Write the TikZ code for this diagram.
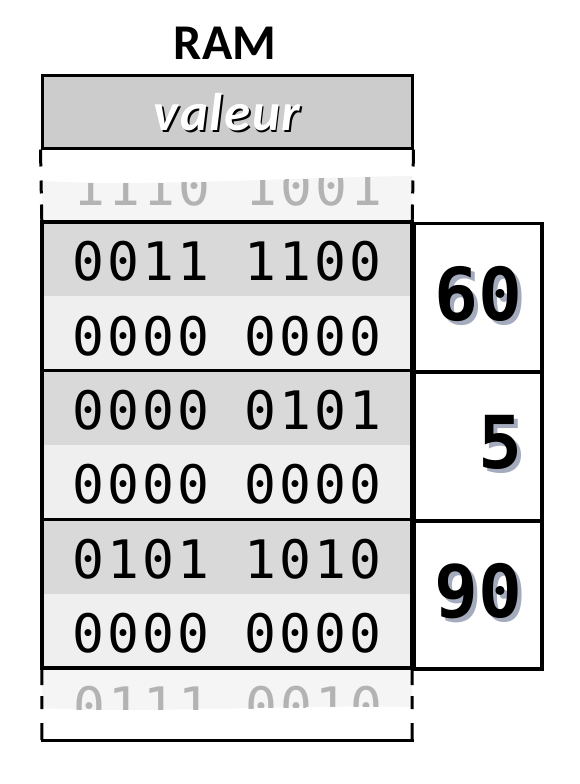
\documentclass[tikz,border=0pt]{standalone}
\usepackage{fontspec}
\setmainfont{Carlito}
\newfontfamily\bitsfont[LetterSpace=6]{DejaVu Sans Mono}
\newfontfamily\valfont{DejaVu Sans Mono}
\usetikzlibrary{positioning}
\definecolor{headgrey}{HTML}{CCCCCC}
\definecolor{rowdark}{HTML}{D9D9D9}
\definecolor{rowlight}{HTML}{EFEFEF}
\definecolor{fadegrey}{HTML}{F5F5F5}
\definecolor{fadetext}{HTML}{B3B3B3}
\definecolor{shadowblue}{HTML}{A3ABBC}
\newcommand\castshadow[3]{\makebox[0pt][l]{\hspace*{#3}\raisebox{-#3}{\textcolor{#2}{#1}}}#1}
\tikzstyle{cell} = [inner sep=0pt,minimum width=370pt,minimum height=74pt,text height=44pt,font=\bitsfont\fontsize{53}{53}\selectfont]
\tikzstyle{hirow} = [cell,fill=rowdark]
\tikzstyle{lorow} = [cell,fill=rowlight]
\tikzstyle{fadebits} = [cell,text=fadetext,anchor=base]
\tikzstyle{block} = [line width=3.5pt]
\tikzstyle{valbox} = [draw,line width=3.5pt,inner sep=0pt,minimum width=128pt,minimum height=148pt,text width=88pt,align=right,text depth=9pt,anchor=north west,font=\valfont\bfseries\fontsize{73}{73}\selectfont]
\tikzstyle{side} = [line width=3pt,dash pattern=on 17pt off 14pt on 13pt off 11pt on 40pt]

\begin{document}
\begin{tikzpicture}[x=1pt,y=-1pt]
\useasboundingbox (0,0) rectangle (580,784);

\node[inner sep=0pt,font=\bfseries\fontsize{50}{50}\selectfont] (title) at (225,43) {RAM};
\node[draw,line width=3pt,fill=headgrey,minimum width=370pt,minimum height=73pt,inner sep=0pt,text=white,text height=40pt,
 font=\bfseries\itshape\fontsize{53}{53}\selectfont\addfontfeature{LetterSpace=3}] (head) at (227,111.5) {\castshadow{valeur}{black}{2pt}};

% faded cells above and below
\begin{scope}
 \clip (42,222) -- (42,181) .. controls (150,187) and (300,177) .. (412,176) -- (412,222) -- cycle;
 \fill[fadegrey] (42,148) rectangle (412,222);
 \node[fadebits] (f0) at (228,205) {1110 1001};
\end{scope}
\begin{scope}
 \clip (42,666) -- (412,666) -- (412,707) .. controls (300,704) and (150,714) .. (42,708) -- cycle;
 \fill[fadegrey] (42,666) rectangle (412,740);
 \node[fadebits] (f4) at (228,725) {0111 0010};
\end{scope}

% memory cells
\node[hirow] (r1a) at (227,259) {0011 1100};
\node[lorow,below=0pt of r1a] (r1b) {0000 0000};
\node[hirow,below=0pt of r1b] (r2a) {0000 0101};
\node[lorow,below=0pt of r2a] (r2b) {0000 0000};
\node[hirow,below=0pt of r2b] (r3a) {0101 1010};
\node[lorow,below=0pt of r3a] (r3b) {0000 0000};

\draw[block] (r1a.north west) rectangle (r1b.south east);
\draw[block] (r2a.north west) rectangle (r2b.south east);
\draw[block] (r3a.north west) rectangle (r3b.south east);

\node[valbox] (v1) at (r1a.north east) {\castshadow{60}{shadowblue}{4pt}};
\node[valbox] (v2) at (r2a.north east) {\castshadow{5}{shadowblue}{4pt}};
\node[valbox] (v3) at (r3a.north east) {\castshadow{90}{shadowblue}{4pt}};

% broken sides
\coordinate (footW) at (42,740);
\coordinate (footE) at (412,740);
\draw[side] (head.south west) -- (r1a.north west);
\draw[side] (head.south east) -- (r1a.north east);
\draw[side] (footW) -- (r3b.south west);
\draw[side] (footE) -- (r3b.south east);
\draw[line width=3pt,line cap=rect] (footW) -- (footE);

\end{tikzpicture}
\end{document}
